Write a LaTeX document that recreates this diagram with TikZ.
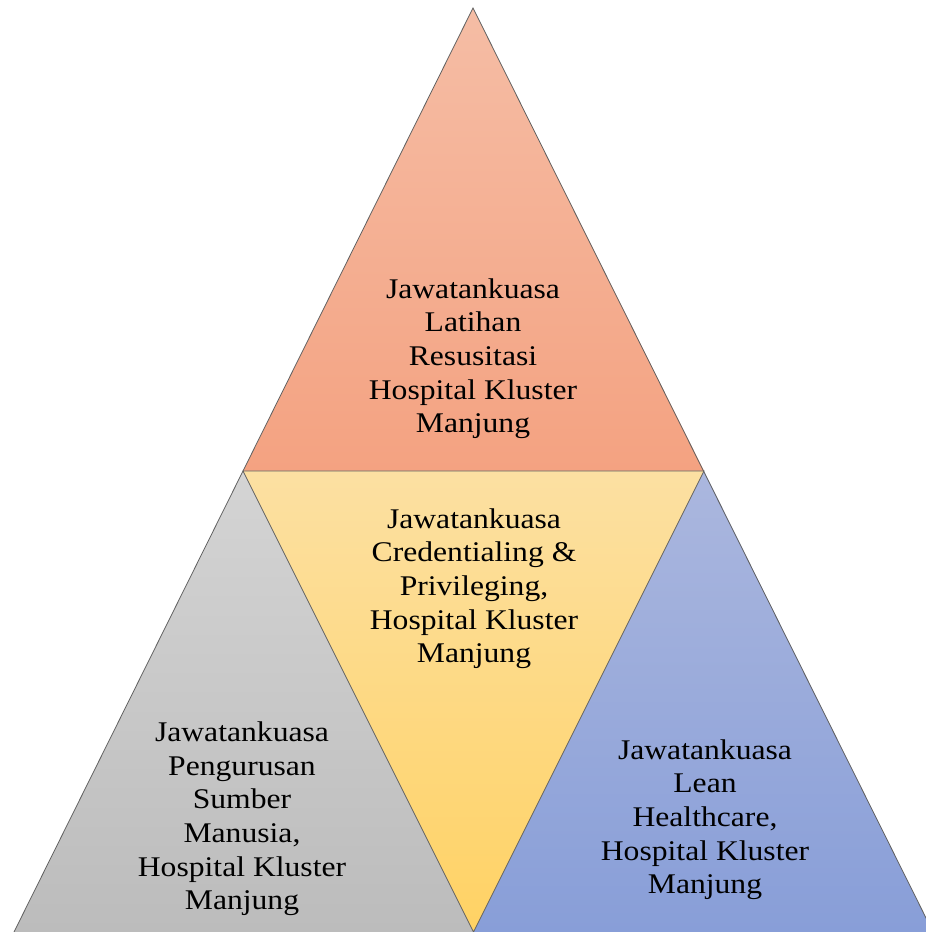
\documentclass[tikz,border=0pt]{standalone}
\usepackage{fontspec}
\setmainfont{Liberation Serif}[FakeStretch=1.11]
\definecolor{salmonT}{HTML}{F5BDA5}
\definecolor{salmonB}{HTML}{F4A281}
\definecolor{yellowT}{HTML}{FCE0A2}
\definecolor{yellowB}{HTML}{FFD264}
\definecolor{grayT}{HTML}{D4D4D4}
\definecolor{grayB}{HTML}{BCBCBC}
\definecolor{blueT}{HTML}{ABB7DE}
\definecolor{blueB}{HTML}{889ED8}
\tikzset{
  edge/.style={draw=black!62, line width=0.8pt, line join=miter},
  lbl/.style={align=center, inner sep=0pt, anchor=base, text=black,
    font=\fontsize{28.5pt}{33.7pt}\selectfont}
}
\begin{document}
\begin{tikzpicture}[x=1pt,y=1pt]
\useasboundingbox (0,0) rectangle (926,932);
\coordinate (A) at (473,924);
\coordinate (L) at (243,461);
\coordinate (R) at (704,461);
\coordinate (BL) at (14,0);
\coordinate (M) at (473.5,0);
\coordinate (BR) at (933,0);
\path[top color=salmonT, bottom color=salmonB] (A) -- (L) -- (R) -- cycle;
\path[top color=grayT, bottom color=grayB] (L) -- (BL) -- (M) -- cycle;
\path[top color=blueT, bottom color=blueB] (R) -- (M) -- (BR) -- cycle;
\path[top color=yellowT, bottom color=yellowB] (L) -- (R) -- (M) -- cycle;
\draw[edge] (BL) -- (A) -- (BR);
\draw[edge] (L) -- (R) -- (M) -- cycle;
\node[lbl] (top) at (473,499) {Jawatankuasa\\Latihan\\Resusitasi\\Hospital Kluster\\Manjung};
\node[lbl] (mid) at (474,269) {Jawatankuasa\\Credentialing \&\\Privileging,\\Hospital Kluster\\Manjung};
\node[lbl] (left) at (242,22) {Jawatankuasa\\Pengurusan\\Sumber\\Manusia,\\Hospital Kluster\\Manjung};
\node[lbl] (right) at (705,38) {Jawatankuasa\\Lean\\Healthcare,\\Hospital Kluster\\Manjung};
\end{tikzpicture}
\end{document}
